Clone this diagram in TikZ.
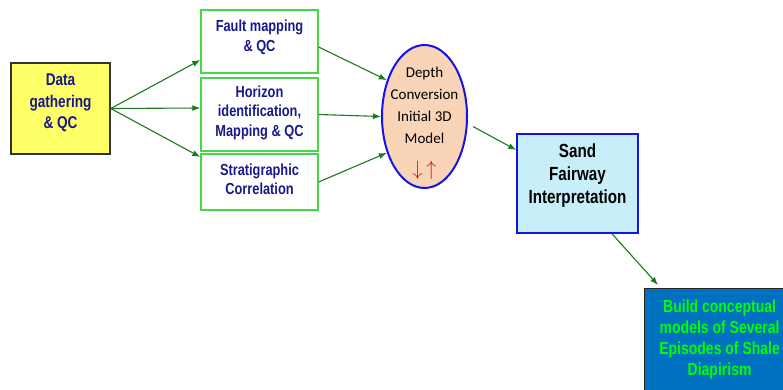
\documentclass[tikz,border=0pt]{standalone}
\usepackage{fontspec}
\setmainfont{Liberation Sans}
\newfontfamily\narrowsf[FakeStretch=0.8]{Liberation Sans}
\newfontfamily\calfont{Carlito}
\usetikzlibrary{arrows.meta,shapes.geometric}
\definecolor{flowgreen}{RGB}{30,120,30}
\definecolor{navytext}{RGB}{25,25,140}
\definecolor{boxgreen}{RGB}{70,215,70}
\definecolor{peach}{RGB}{250,212,182}
\definecolor{ovalblue}{RGB}{20,20,230}
\definecolor{seaglass}{RGB}{200,238,250}
\definecolor{deepblue}{RGB}{0,112,192}
\definecolor{limetext}{RGB}{0,255,0}
\definecolor{lemon}{RGB}{255,255,102}
\definecolor{arrowred}{RGB}{205,25,25}
\newcommand\liftby[1]{\\[#1]\mbox{}}
\begin{document}
\begin{tikzpicture}[x=1pt,y=-1pt,
  taskbox/.style={draw=boxgreen,line width=1.3pt,fill=white,minimum width=117pt,inner sep=0pt,align=center,text=navytext,font=\narrowsf\bfseries\fontsize{16}{19.5}\selectfont},
  flow/.style={draw=flowgreen,line width=1.1pt,-{Latex[length=8pt,width=6pt]}}]
 \clip (0,0) rectangle (783,390);
 \node [draw=black!80,line width=1.5pt,fill=lemon,minimum width=99pt,minimum height=91pt,inner sep=0pt,align=center,text=navytext,font=\narrowsf\bfseries\fontsize{17}{21.5}\selectfont] (data) at (60.5,108.5) {Data\\gathering\\\& QC\liftby{-7.5pt}};
 \node [taskbox,minimum height=63pt] (fault) at (259.5,41.5) {Fault mapping\\\& QC\liftby{-7.5pt}};
 \node [taskbox,minimum height=73pt] (horizon) at (259.5,114.5) {Horizon\\identification,\\Mapping \& QC\liftby{-12pt}};
 \node [taskbox,minimum height=56pt] (strat) at (259.5,182) {Stratigraphic\\Correlation\liftby{-13.5pt}};
 \node [ellipse,draw=ovalblue,line width=2pt,fill=peach,minimum width=85pt,minimum height=143pt,inner xsep=-4pt,inner ysep=-15pt,align=center,font=\calfont\fontsize{15}{21.7}\selectfont] (depth) at (424.5,116.5) {\mbox{}\\[3pt]Depth\\Conversion\\Initial 3D\\Model\\[11pt]{\color{arrowred}\fontsize{20}{22}\selectfont$\downarrow\,\uparrow$}};
 \node [draw=ovalblue,line width=1.5pt,fill=seaglass,minimum width=121pt,minimum height=99pt,inner sep=0pt,align=center,font=\narrowsf\bfseries\fontsize{19}{23}\selectfont] (sand) at (577.5,183.5) {Sand\\Fairway\\Interpretation\liftby{-4pt}};
 \node [draw=black!85,line width=1.2pt,fill=deepblue,anchor=north west,inner xsep=5pt,inner ysep=11pt,text=limetext,font=\narrowsf\bfseries\fontsize{17.5}{21}\selectfont] (build) at (644,288) {\begin{minipage}[t][100pt][t]{140pt}\centering Build conceptual\\models of Several\\Episodes of Shale\\Diapirism\end{minipage}};
 \draw [flow] (data.east) -- ([yshift=-18.5pt]fault.west);
 \draw [flow] (data.east) -- ([yshift=6.5pt]horizon.west);
 \draw [flow] (data.east) -- ([yshift=25pt]strat.west);
 \draw [flow] ([yshift=-5.5pt]fault.east) -- (depth.136);
 \draw [flow] (horizon.east) -- (depth.west);
 \draw [flow] (strat.east) -- (depth.224);
 \draw [flow] ([shift={(5pt,-10pt)}]depth.east) -- ([yshift=33.5pt]sand.west);
 \draw [flow] ([xshift=34.5pt]sand.south) -- ([shift={(14pt,3pt)}]build.north west);
\end{tikzpicture}
\end{document}
